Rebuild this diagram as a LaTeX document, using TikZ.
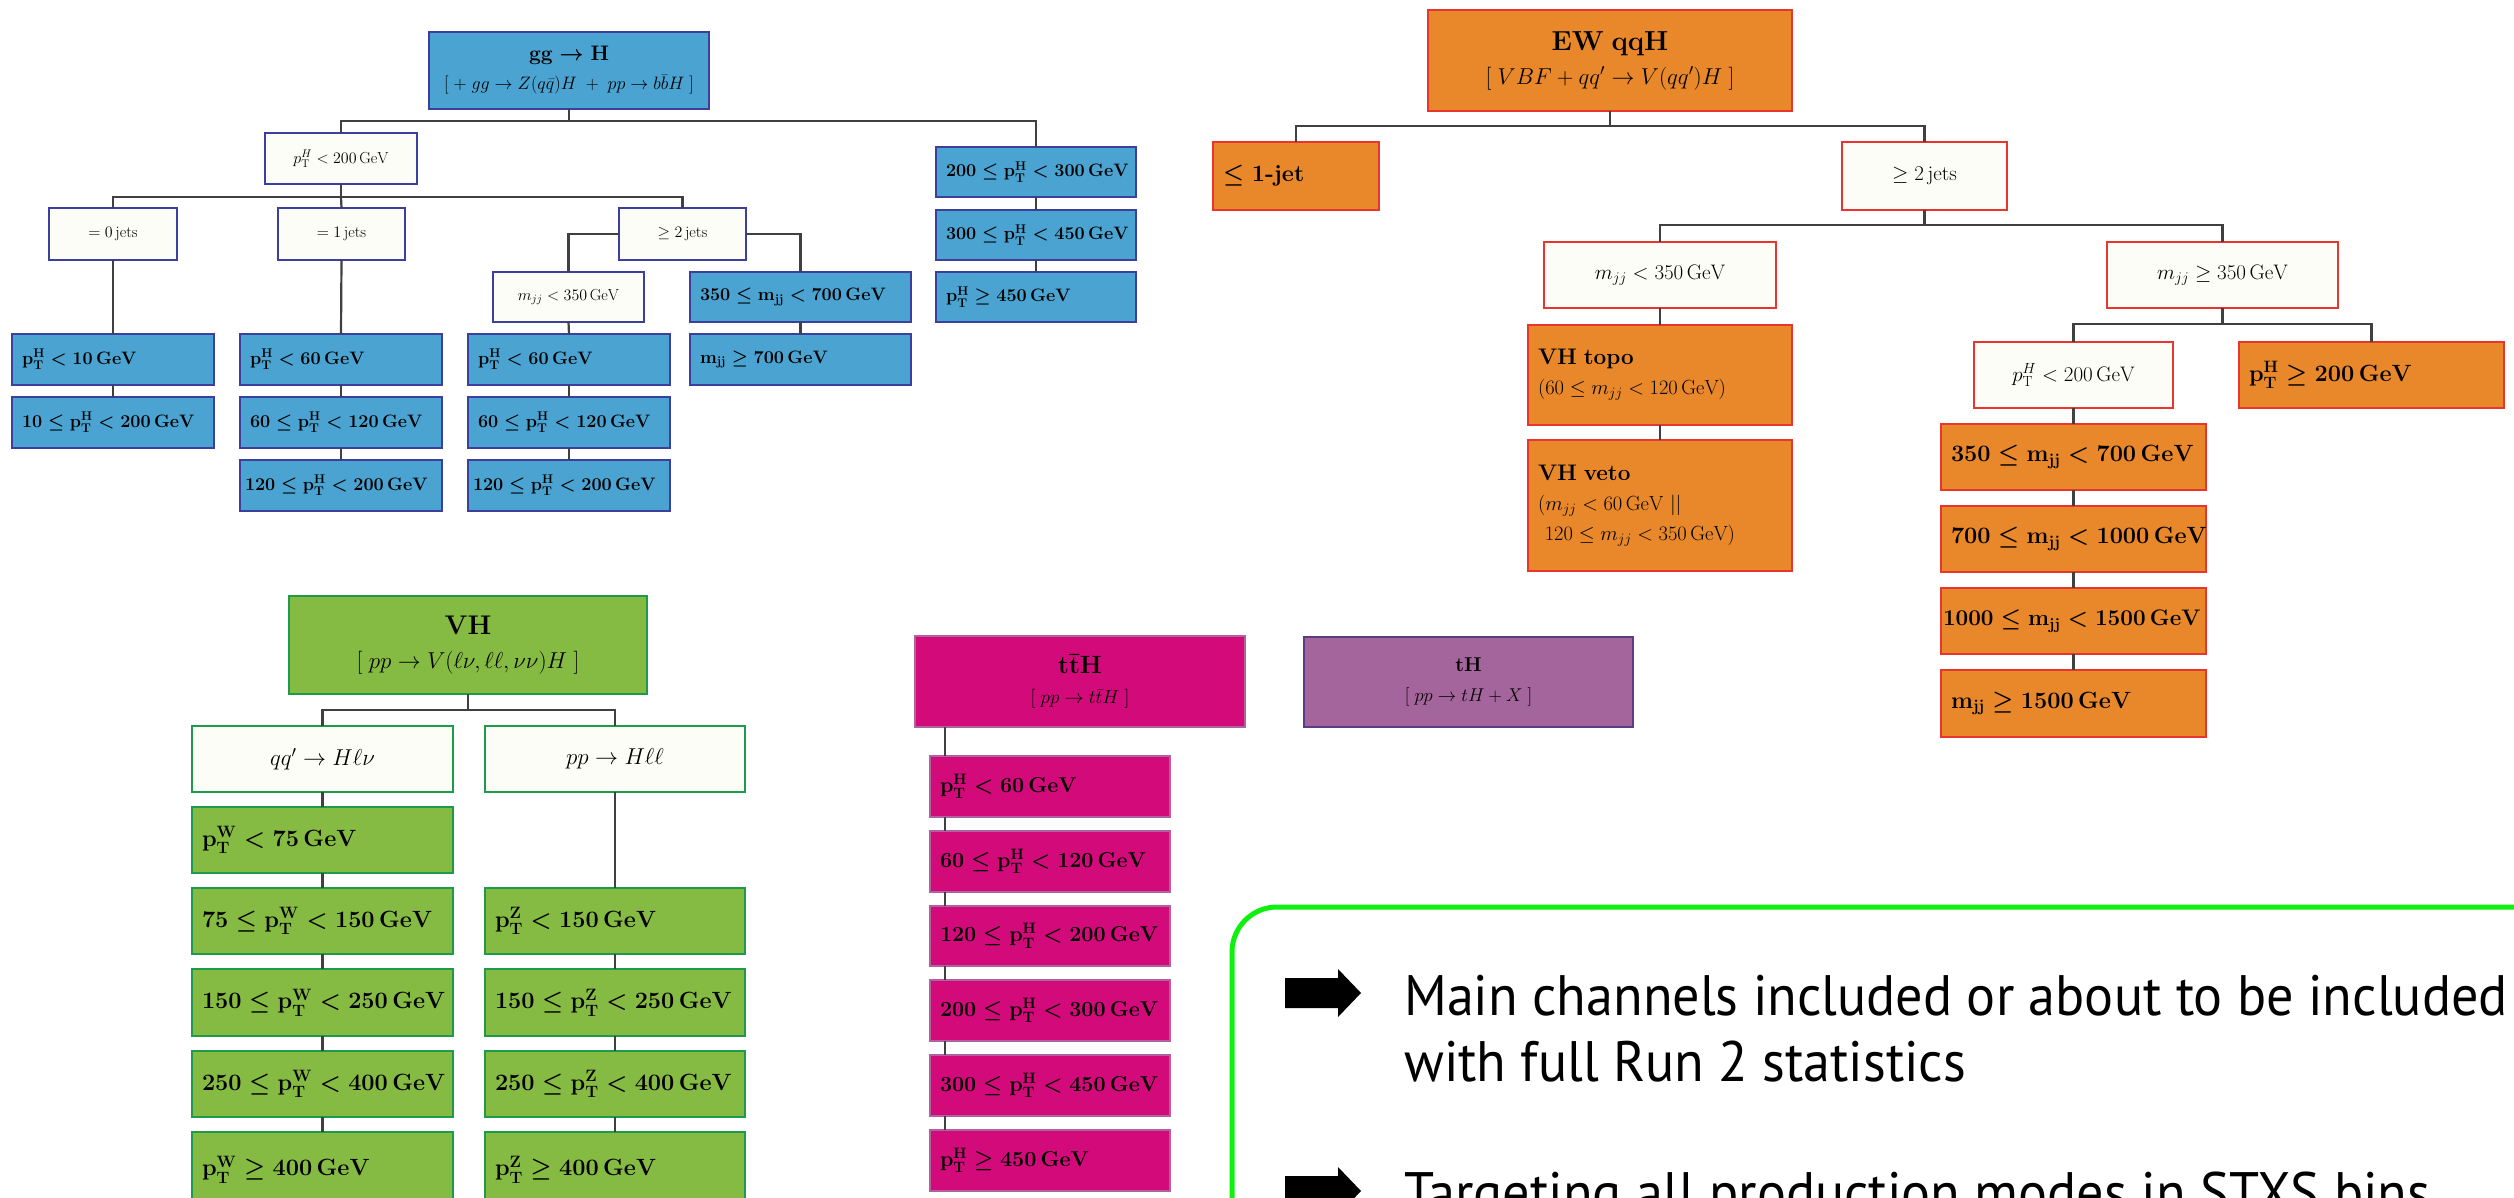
\RequirePackage{fix-cm}
\documentclass[tikz,border=0pt]{standalone}
\usepackage{fontspec}
\setmainfont{Latin Modern Roman}
\newfontfamily\gill[FakeStretch=0.95]{PT Sans}
\definecolor{ggfill}{HTML}{4AA3D1}
\definecolor{ggline}{HTML}{3C3F9C}
\definecolor{wfill}{HTML}{FDFDF8}
\definecolor{ewfill}{HTML}{E8882B}
\definecolor{ewline}{HTML}{E8352E}
\definecolor{vhfill}{HTML}{86BB43}
\definecolor{vhline}{HTML}{1E9A4B}
\definecolor{ttfill}{HTML}{D30B7A}
\definecolor{ttline}{HTML}{B0619F}
\definecolor{thfill}{HTML}{A4659C}
\definecolor{thline}{HTML}{5A3D82}
\definecolor{conncol}{HTML}{404040}
\definecolor{boxgreen}{HTML}{10F010}
\newcommand\fz[2]{\fontsize{#1}{#2}\selectfont}
\newcommand\B[1]{\mbox{\boldmath$\mathbf{#1}$}}
\newcommand\M[1]{\mbox{$#1$}}
\newcommand\bx[7]{\node[#1,minimum width=#5pt,minimum height=#6pt,text width={#5pt-20pt}] (#2) at (#3,#4) {#7};}
\begin{document}
\begin{tikzpicture}[x=1pt,y=-1pt,
  base/.style={draw,line width=2pt,anchor=north west,inner xsep=10pt,inner ysep=0pt,outer sep=0pt,align=left},
  ctr/.style={base,align=center},
  ggB/.style={base,fill=ggfill,draw=ggline,font=\fz{18}{22}},
  ggH/.style={ctr,fill=ggfill,draw=ggline,font=\fz{18}{26}},
  ggW/.style={ctr,fill=wfill,draw=ggline,font=\fz{16}{20}},
  ewB/.style={base,fill=ewfill,draw=ewline,font=\fz{23.5}{28}},
  ewT/.style={base,fill=ewfill,draw=ewline,font=\fz{20.5}{30}},
  ewH/.style={ctr,fill=ewfill,draw=ewline,font=\fz{23}{36}},
  ewW/.style={ctr,fill=wfill,draw=ewline,font=\fz{21}{26}},
  vhB/.style={base,fill=vhfill,draw=vhline,font=\fz{23.5}{28}},
  vhH/.style={ctr,fill=vhfill,draw=vhline,font=\fz{23}{34}},
  vhW/.style={ctr,fill=wfill,draw=vhline,font=\fz{23}{28}},
  ttB/.style={base,fill=ttfill,draw=ttline,font=\fz{21.5}{26}},
  ttH/.style={ctr,fill=ttfill,draw=ttline,font=\fz{19}{28}},
  thH/.style={ctr,fill=thfill,draw=thline,font=\fz{18.5}{28}},
  conn/.style={draw=conncol,line width=2.2pt},
  bigtxt/.style={font=\gill\fz{57}{66},anchor=base west,inner sep=0pt}
]
\useasboundingbox (0,0) rectangle (2514,1197);
\clip (0,0) rectangle (2514,1197);
\fill[white] (0,0) rectangle (2514,1197);

% ---------------- gg -> H ----------------
\bx{ggH}{ggH}{429}{32}{280}{77}{{\fz{21}{26}\boldmath$\mathbf{gg\rightarrow H}$}\\[3pt]\M{[\;+\;gg\rightarrow Z(q\bar q)H\;+\;pp\rightarrow b\bar bH\;]}}
\bx{ggW}{pTg}{265}{133}{152}{51}{\M{p_{\rm T}^H<200\,\mathrm{GeV}}}
\bx{ggW}{j0}{49}{208}{128}{52}{\M{=0\,\mathrm{jets}}}
\bx{ggW}{j1}{278}{208}{127}{52}{\M{=1\,\mathrm{jets}}}
\bx{ggW}{j2}{619}{208}{127}{52}{\M{\geq 2\,\mathrm{jets}}}
\bx{ggW}{mjjw}{493}{272}{151}{50}{\M{m_{jj}<350\,\mathrm{GeV}}}
\bx{ggB}{mjja}{690}{272}{221}{50}{\B{350\leq m_{jj}<700\,GeV}}
\bx{ggB}{mjjb}{690}{334}{221}{51}{\B{m_{jj}\geq 700\,GeV}}
\bx{ggB}{r1}{936}{147}{200}{50}{\B{200\leq p_T^H<300\,GeV}}
\bx{ggB}{r2}{936}{210}{200}{50}{\B{300\leq p_T^H<450\,GeV}}
\bx{ggB}{r3}{936}{272}{200}{50}{\B{p_T^H\geq 450\,GeV}}
\bx{ggB}{c1a}{12}{334}{202}{51}{\B{p_T^H<10\,GeV}}
\bx{ggB}{c1b}{12}{397}{202}{51}{\B{10\leq p_T^H<200\,GeV}}
\bx{ggB}{c2a}{240}{334}{202}{51}{\B{p_T^H<60\,GeV}}
\bx{ggB}{c2b}{240}{397}{202}{51}{\B{60\leq p_T^H<120\,GeV}}
\bx{ggB}{c2c}{240}{460}{202}{51}{\hspace*{-5pt}\B{120\leq p_T^H<200\,GeV}}
\bx{ggB}{c3a}{468}{334}{202}{51}{\B{p_T^H<60\,GeV}}
\bx{ggB}{c3b}{468}{397}{202}{51}{\B{60\leq p_T^H<120\,GeV}}
\bx{ggB}{c3c}{468}{460}{202}{51}{\hspace*{-5pt}\B{120\leq p_T^H<200\,GeV}}

\coordinate (bG) at (569,121);
\coordinate (bG2) at (341,197);
\draw[conn] (ggH.south) -- (bG);
\draw[conn] (pTg.north) |- (bG) -| (r1.north);
\draw[conn] (r1.south) -- (r2.north);
\draw[conn] (r2.south) -- (r3.north);
\draw[conn] (pTg.south) -- (bG2);
\draw[conn] (j0.north) |- (bG2) -| (j2.north);
\draw[conn] (bG2) -- (j1.north);
\draw[conn] (j2.west) -| (mjjw.north);
\draw[conn] (j2.east) -| (mjja.north);
\draw[conn] (mjja.south) -- (mjjb.north);
\draw[conn] (j0.south) -- (c1a.north);
\draw[conn] (c1a.south) -- (c1b.north);
\draw[conn] (j1.south) -- (c2a.north);
\draw[conn] (c2a.south) -- (c2b.north);
\draw[conn] (c2b.south) -- (c2c.north);
\draw[conn] (mjjw.south) -- (c3a.north);
\draw[conn] (c3a.south) -- (c3b.north);
\draw[conn] (c3b.south) -- (c3c.north);

% ---------------- EW qqH ----------------
\bx{ewH}{EW}{1428}{10}{364}{101}{{\fz{27.5}{34}\bfseries EW qqH}\\[-2pt]\M{[\;VBF+qq'\rightarrow V(qq')H\;]}}
\bx{ewB}{le1}{1213}{142}{166}{68}{\mbox{\boldmath$\leq$ \bfseries 1-jet}}
\bx{ewW}{ge2}{1842}{142}{165}{68}{\M{\geq 2\,\mathrm{jets}}}
\bx{ewW}{mjjlt}{1544}{242}{232}{66}{\M{m_{jj}<350\,\mathrm{GeV}}}
\bx{ewW}{mjjge}{2107}{242}{231}{66}{\M{m_{jj}\geq 350\,\mathrm{GeV}}}
\bx{ewT}{vht}{1528}{325}{264}{100}{{\fz{22.5}{30}\bfseries VH topo}\\\M{(60\leq m_{jj}<120\,\mathrm{GeV})}}
\bx{ewT}{vhv}{1528}{440}{264}{131}{{\fz{22.5}{30}\bfseries VH veto}\\\M{(m_{jj}<60\,\mathrm{GeV}\ ||}\\\M{\ 120\leq m_{jj}<350\,\mathrm{GeV})}}
\bx{ewW}{pTe}{1974}{342}{199}{66}{\M{p_{\rm T}^H<200\,\mathrm{GeV}}}
\bx{ewB}{pTh}{2239}{342}{265}{66}{\B{p_T^H\geq 200\,GeV}}
\bx{ewB}{e1}{1941}{424}{265}{66}{\B{350\leq m_{jj}<700\,GeV}}
\bx{ewB}{e2}{1941}{506}{265}{66}{\B{700\leq m_{jj}<1000\,GeV}}
\bx{ewB}{e3}{1941}{588}{265}{66}{\hspace*{-8pt}\fz{22.5}{28}\B{1000\leq m_{jj}<1500\,GeV}}
\bx{ewB}{e4}{1941}{670}{265}{67}{\B{m_{jj}\geq 1500\,GeV}}

\coordinate (bE) at (1610,126);
\coordinate (bE2) at (1924.5,225);
\coordinate (bE3) at (2222.5,324);
\draw[conn] (EW.south) -- (bE);
\draw[conn] (le1.north) |- (bE) -| (ge2.north);
\draw[conn] (ge2.south) -- (bE2);
\draw[conn] (mjjlt.north) |- (bE2) -| (mjjge.north);
\draw[conn] (mjjlt.south) -- (vht.north);
\draw[conn] (vht.south) -- (vhv.north);
\draw[conn] (mjjge.south) -- (bE3);
\draw[conn] (pTe.north) |- (bE3) -| (pTh.north);
\draw[conn] (pTe.south) -- (e1.north);
\draw[conn] (e1.south) -- (e2.north);
\draw[conn] (e2.south) -- (e3.north);
\draw[conn] (e3.south) -- (e4.north);

% ---------------- VH ----------------
\bx{vhH}{VH}{289}{596}{358}{98}{\rule{0pt}{12pt}{\fz{27}{34}\bfseries VH}\\[0pt]\M{[\;pp\rightarrow V(\ell\nu,\ell\ell,\nu\nu)H\;]}}
\bx{vhW}{qq}{192}{726}{261}{66}{\M{qq'\rightarrow H\ell\nu}}
\bx{vhW}{pl}{485}{726}{260}{66}{\M{pp\rightarrow H\ell\ell}}
\bx{vhB}{w1}{192}{807}{261}{66}{\B{p_T^W<75\,GeV}}
\bx{vhB}{w2}{192}{888}{261}{66}{\B{75\leq p_T^W<150\,GeV}}
\bx{vhB}{w3}{192}{969}{261}{67}{\B{150\leq p_T^W<250\,GeV}}
\bx{vhB}{w4}{192}{1051}{261}{66}{\B{250\leq p_T^W<400\,GeV}}
\bx{vhB}{w5}{192}{1132}{261}{75}{\B{p_T^W\geq 400\,GeV}}
\bx{vhB}{z1}{485}{888}{260}{66}{\B{p_T^Z<150\,GeV}}
\bx{vhB}{z2}{485}{969}{260}{67}{\B{150\leq p_T^Z<250\,GeV}}
\bx{vhB}{z3}{485}{1051}{260}{66}{\B{250\leq p_T^Z<400\,GeV}}
\bx{vhB}{z4}{485}{1132}{260}{75}{\B{p_T^Z\geq 400\,GeV}}

\coordinate (bV) at (468,710);
\draw[conn] (VH.south) -- (bV);
\draw[conn] (qq.north) |- (bV) -| (pl.north);
\draw[conn] (qq.south) -- (w1.north);
\draw[conn] (w1.south) -- (w2.north);
\draw[conn] (w2.south) -- (w3.north);
\draw[conn] (w3.south) -- (w4.north);
\draw[conn] (w4.south) -- (w5.north);
\draw[conn] (pl.south) -- (z1.north);
\draw[conn] (z1.south) -- (z2.north);
\draw[conn] (z2.south) -- (z3.north);
\draw[conn] (z3.south) -- (z4.north);

% ---------------- ttH ----------------
\bx{ttH}{ttH}{915}{636}{330}{91}{{\fz{25}{30}\boldmath$\mathbf{t\bar{t}H}$}\\[2pt]\M{[\;pp\rightarrow t\bar tH\;]}}
\bx{ttB}{t1}{930}{756}{240}{61}{\B{p_T^H<60\,GeV}}
\bx{ttB}{t2}{930}{831}{240}{61}{\B{60\leq p_T^H<120\,GeV}}
\bx{ttB}{t3}{930}{906}{240}{60}{\B{120\leq p_T^H<200\,GeV}}
\bx{ttB}{t4}{930}{980}{240}{61}{\B{200\leq p_T^H<300\,GeV}}
\bx{ttB}{t5}{930}{1055}{240}{61}{\B{300\leq p_T^H<450\,GeV}}
\bx{ttB}{t6}{930}{1130}{240}{61}{\B{p_T^H\geq 450\,GeV}}
\coordinate (tx) at (945,0);
\draw[conn] (tx |- ttH.south) -- (tx |- t1.north);
\draw[conn] (tx |- t1.south) -- (tx |- t2.north);
\draw[conn] (tx |- t2.south) -- (tx |- t3.north);
\draw[conn] (tx |- t3.south) -- (tx |- t4.north);
\draw[conn] (tx |- t4.south) -- (tx |- t5.north);
\draw[conn] (tx |- t5.south) -- (tx |- t6.north);

% ---------------- tH ----------------
\bx{thH}{tH}{1304}{637}{329}{90}{{\fz{20}{28}\boldmath$\mathbf{tH}$}\\[2pt]\M{[\;pp\rightarrow tH+X\;]}}

% ---------------- summary box ----------------
\draw[boxgreen,line width=5pt,rounded corners=45pt] (1232,907) rectangle (2620,1320);
\fill[black] (1285,978) -- (1338,978) -- (1338,969) -- (1361,993) -- (1338,1017) -- (1338,1008) -- (1285,1008) -- cycle;
\fill[black] (1285,1176) -- (1338,1176) -- (1338,1167) -- (1361,1191) -- (1338,1215) -- (1338,1206) -- (1285,1206) -- cycle;
\node[bigtxt] (s1) at (1404,1015) {Main channels included or about to be included};
\node[bigtxt] (s2) at (1404,1081) {with full Run 2 statistics};
\node[bigtxt] (s3) at (1404,1212) {Targeting all production modes in STXS bins};
\end{tikzpicture}
\end{document}
